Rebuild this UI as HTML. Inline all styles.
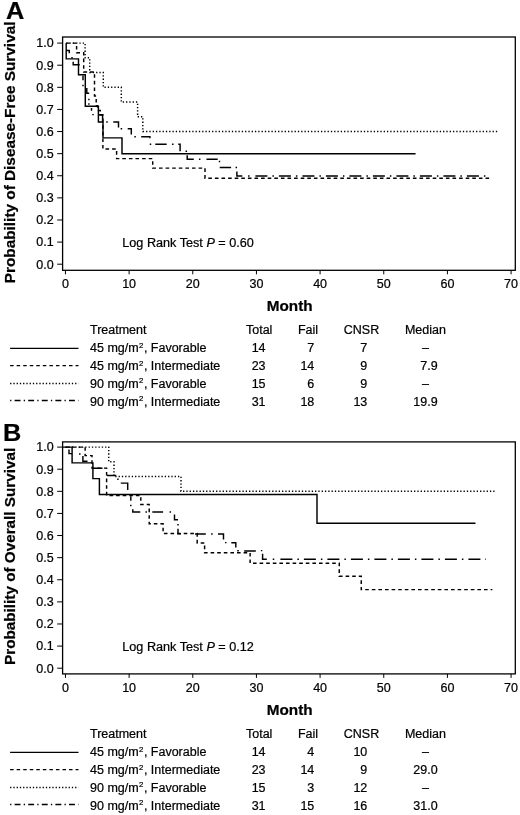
<!DOCTYPE html>
<html><head><meta charset="utf-8"><title>Kaplan-Meier survival curves</title>
<style>
html,body{margin:0;padding:0;background:#fff;}
body{width:520px;height:815px;overflow:hidden;font-family:"Liberation Sans",sans-serif;}
svg{display:block;font-family:"Liberation Sans",sans-serif;}
text{stroke:#000;stroke-width:0.22px;}
</style></head>
<body>
<svg width="520" height="815" viewBox="0 0 520 815" style="will-change:transform">
<rect width="520" height="815" fill="#fff"/>
<rect x="62.6" y="37" width="452.69999999999993" height="233.30" fill="none" stroke="#000" stroke-width="1.3"/>
<line x1="57.2" y1="264.20" x2="62.6" y2="264.20" stroke="#000" stroke-width="1"/>
<text x="53.6" y="268.50" text-anchor="end" font-size="12.5" fill="#000">0.0</text>
<line x1="57.2" y1="242.09" x2="62.6" y2="242.09" stroke="#000" stroke-width="1"/>
<text x="53.6" y="246.39" text-anchor="end" font-size="12.5" fill="#000">0.1</text>
<line x1="57.2" y1="219.98" x2="62.6" y2="219.98" stroke="#000" stroke-width="1"/>
<text x="53.6" y="224.28" text-anchor="end" font-size="12.5" fill="#000">0.2</text>
<line x1="57.2" y1="197.87" x2="62.6" y2="197.87" stroke="#000" stroke-width="1"/>
<text x="53.6" y="202.17" text-anchor="end" font-size="12.5" fill="#000">0.3</text>
<line x1="57.2" y1="175.76" x2="62.6" y2="175.76" stroke="#000" stroke-width="1"/>
<text x="53.6" y="180.06" text-anchor="end" font-size="12.5" fill="#000">0.4</text>
<line x1="57.2" y1="153.65" x2="62.6" y2="153.65" stroke="#000" stroke-width="1"/>
<text x="53.6" y="157.95" text-anchor="end" font-size="12.5" fill="#000">0.5</text>
<line x1="57.2" y1="131.54" x2="62.6" y2="131.54" stroke="#000" stroke-width="1"/>
<text x="53.6" y="135.84" text-anchor="end" font-size="12.5" fill="#000">0.6</text>
<line x1="57.2" y1="109.43" x2="62.6" y2="109.43" stroke="#000" stroke-width="1"/>
<text x="53.6" y="113.73" text-anchor="end" font-size="12.5" fill="#000">0.7</text>
<line x1="57.2" y1="87.32" x2="62.6" y2="87.32" stroke="#000" stroke-width="1"/>
<text x="53.6" y="91.62" text-anchor="end" font-size="12.5" fill="#000">0.8</text>
<line x1="57.2" y1="65.21" x2="62.6" y2="65.21" stroke="#000" stroke-width="1"/>
<text x="53.6" y="69.51" text-anchor="end" font-size="12.5" fill="#000">0.9</text>
<line x1="57.2" y1="43.10" x2="62.6" y2="43.10" stroke="#000" stroke-width="1"/>
<text x="53.6" y="47.40" text-anchor="end" font-size="12.5" fill="#000">1.0</text>
<line x1="65.45" y1="270.30" x2="65.45" y2="274.30" stroke="#000" stroke-width="1"/>
<text x="65.45" y="288.40" text-anchor="middle" font-size="12.5" fill="#000">0</text>
<line x1="129.11" y1="270.30" x2="129.11" y2="274.30" stroke="#000" stroke-width="1"/>
<text x="129.11" y="288.40" text-anchor="middle" font-size="12.5" fill="#000">10</text>
<line x1="192.77" y1="270.30" x2="192.77" y2="274.30" stroke="#000" stroke-width="1"/>
<text x="192.77" y="288.40" text-anchor="middle" font-size="12.5" fill="#000">20</text>
<line x1="256.43" y1="270.30" x2="256.43" y2="274.30" stroke="#000" stroke-width="1"/>
<text x="256.43" y="288.40" text-anchor="middle" font-size="12.5" fill="#000">30</text>
<line x1="320.09" y1="270.30" x2="320.09" y2="274.30" stroke="#000" stroke-width="1"/>
<text x="320.09" y="288.40" text-anchor="middle" font-size="12.5" fill="#000">40</text>
<line x1="383.75" y1="270.30" x2="383.75" y2="274.30" stroke="#000" stroke-width="1"/>
<text x="383.75" y="288.40" text-anchor="middle" font-size="12.5" fill="#000">50</text>
<line x1="447.41" y1="270.30" x2="447.41" y2="274.30" stroke="#000" stroke-width="1"/>
<text x="447.41" y="288.40" text-anchor="middle" font-size="12.5" fill="#000">60</text>
<line x1="511.07" y1="270.30" x2="511.07" y2="274.30" stroke="#000" stroke-width="1"/>
<text x="511.07" y="288.40" text-anchor="middle" font-size="12.5" fill="#000">70</text>
<text x="266.80" y="311.20" textLength="45.8" lengthAdjust="spacingAndGlyphs" font-size="14.6" font-weight="bold" fill="#000">Month</text>
<text transform="translate(15,152.40) rotate(-90)" x="-130.85" textLength="261.7" lengthAdjust="spacingAndGlyphs" font-size="14.5" font-weight="bold" fill="#000">Probability of Disease-Free Survival</text>
<text transform="translate(5.9,19.00) scale(1.055,1)" font-size="24" font-weight="bold" fill="#000">A</text>
<text x="122.3" y="247.20" font-size="12.65" fill="#000">Log Rank Test <tspan font-style="italic">P</tspan> = 0.60</text>
<path d="M66.20,43.10 L85.10,43.10 L85.10,57.84 L89.70,57.84 L89.70,72.58 L103.30,72.58 L103.30,87.32 L121.30,87.32 L121.30,102.06 L137.60,102.06 L137.60,116.80 L142.80,116.80 L142.80,131.54 L498.34,131.54" fill="none" stroke="#000" stroke-width="1.45" stroke-dasharray="1.3 2" stroke-dashoffset="0" stroke-linejoin="miter"/>
<path d="M255.40,175.90 L485.90,175.90" fill="none" stroke="#000" stroke-width="1.45" stroke-dasharray="12 5 1.5 5" stroke-dashoffset="0" stroke-linejoin="miter"/>
<path d="M66.20,50.40 L69.30,50.40 L69.30,53.30 M71.25,57.80 L72.75,57.80 M73.20,61.80 L73.20,64.80 L79.70,64.80 M83.00,75.60 L83.00,80.20 M83.00,84.65 L83.00,86.15 M86.80,88.00 L86.80,93.20 L89.20,93.20 M88.90,98.75 L88.90,100.25 M88.90,103.25 L88.90,104.75 M91.50,108.00 L91.50,110.70 M92.25,114.60 L93.75,114.60 M98.70,114.80 L102.60,114.80 L102.60,121.80 M106.25,121.90 L107.75,121.90 M113.30,121.90 L118.50,121.90 L118.50,127.50 M120.65,128.80 L122.15,128.80 M127.70,128.70 L131.30,128.70 L131.30,134.50 M134.35,136.80 L135.85,136.80 M141.20,136.80 L149.90,136.80 L149.90,138.20 M149.75,144.20 L151.25,144.20 M155.30,144.20 L166.70,144.20 M172.05,144.20 L173.55,144.20 M178.20,144.20 L180.10,144.20 L180.10,151.20 M185.55,151.30 L187.05,151.30 M187.20,155.30 L187.20,159.30 L193.80,159.30 M198.95,159.30 L200.45,159.30 M206.50,159.30 L217.70,159.30 M219.50,160.75 L219.50,162.25 M219.70,167.40 L231.10,167.40 M235.55,167.40 L237.05,167.40 M236.90,171.50 L236.90,175.90 L242.30,175.90 M248.05,175.90 L249.55,175.90" fill="none" stroke="#000" stroke-width="1.45"/>
<path d="M66.20,43.10 L76.60,43.10 L76.60,52.71 L83.70,52.71 L83.70,71.94 L94.50,71.94 L94.50,96.00 L96.20,96.00 L96.20,105.70 L97.60,105.70 L97.60,110.50 L100.30,110.50 L100.30,115.00 L102.90,115.00 L102.90,149.00 L116.60,149.00 L116.60,158.60 L152.70,158.60 L152.70,168.10 L205.00,168.10 L205.00,178.20 L491.97,178.20" fill="none" stroke="#000" stroke-width="1.45" stroke-dasharray="3.6 3" stroke-dashoffset="0" stroke-linejoin="miter"/>
<path d="M66.20,43.10 L66.20,43.10 L66.20,58.89 L78.50,58.89 L78.50,74.69 L85.30,74.69 L85.30,106.27 L98.40,106.27 L98.40,122.06 L103.00,122.06 L103.00,137.86 L122.00,137.86 L122.00,153.65 L415.58,153.65" fill="none" stroke="#000" stroke-width="1.45" stroke-linejoin="miter"/>
<line x1="10.1" y1="348.40" x2="78.5" y2="348.40" stroke="#000" stroke-width="1.3"/>
<line x1="10.1" y1="365.70" x2="78.5" y2="365.70" stroke="#000" stroke-width="1.3" stroke-dasharray="3.5 3.05"/>
<line x1="10.1" y1="383.50" x2="78.5" y2="383.50" stroke="#000" stroke-width="1.3" stroke-dasharray="1.3 1.95"/>
<line x1="10.1" y1="400.50" x2="78.5" y2="400.50" stroke="#000" stroke-width="1.3" stroke-dasharray="1.3 3.2 5.9 3.2"/>
<text x="90.0" y="333.60" font-size="12.5" fill="#000">Treatment</text>
<text x="259.2" y="333.60" font-size="12.5" text-anchor="middle" fill="#000">Total</text>
<text x="308" y="333.60" font-size="12.5" text-anchor="middle" fill="#000">Fail</text>
<text x="361.5" y="333.60" font-size="12.5" text-anchor="middle" fill="#000">CNSR</text>
<text x="425.4" y="333.60" font-size="12.5" text-anchor="middle" fill="#000">Median</text>
<text x="90.0" y="351.70" font-size="12.5" fill="#000">45 mg/m<tspan font-size="7.8" dy="-4.1" dx="0.3">2</tspan><tspan dy="4.1" dx="0.6">, Favorable</tspan></text>
<text x="258.6" y="351.70" font-size="12.5" text-anchor="middle" fill="#000">14</text>
<text x="314.3" y="351.70" font-size="12.5" text-anchor="end" fill="#000">7</text>
<text x="367.3" y="351.70" font-size="12.5" text-anchor="end" fill="#000">7</text>
<text x="425.5" y="351.70" font-size="12.5" text-anchor="middle" fill="#000">–</text>
<text x="90.0" y="369.70" font-size="12.5" fill="#000">45 mg/m<tspan font-size="7.8" dy="-4.1" dx="0.3">2</tspan><tspan dy="4.1" dx="0.6">, Intermediate</tspan></text>
<text x="258.6" y="369.70" font-size="12.5" text-anchor="middle" fill="#000">23</text>
<text x="314.3" y="369.70" font-size="12.5" text-anchor="end" fill="#000">14</text>
<text x="367.3" y="369.70" font-size="12.5" text-anchor="end" fill="#000">9</text>
<text x="437.6" y="369.70" font-size="12.5" text-anchor="end" fill="#000">7.9</text>
<text x="90.0" y="387.50" font-size="12.5" fill="#000">90 mg/m<tspan font-size="7.8" dy="-4.1" dx="0.3">2</tspan><tspan dy="4.1" dx="0.6">, Favorable</tspan></text>
<text x="258.6" y="387.50" font-size="12.5" text-anchor="middle" fill="#000">15</text>
<text x="314.3" y="387.50" font-size="12.5" text-anchor="end" fill="#000">6</text>
<text x="367.3" y="387.50" font-size="12.5" text-anchor="end" fill="#000">9</text>
<text x="425.5" y="387.50" font-size="12.5" text-anchor="middle" fill="#000">–</text>
<text x="90.0" y="405.50" font-size="12.5" fill="#000">90 mg/m<tspan font-size="7.8" dy="-4.1" dx="0.3">2</tspan><tspan dy="4.1" dx="0.6">, Intermediate</tspan></text>
<text x="258.6" y="405.50" font-size="12.5" text-anchor="middle" fill="#000">31</text>
<text x="314.3" y="405.50" font-size="12.5" text-anchor="end" fill="#000">18</text>
<text x="367.3" y="405.50" font-size="12.5" text-anchor="end" fill="#000">13</text>
<text x="437.6" y="405.50" font-size="12.5" text-anchor="end" fill="#000">19.9</text>
<rect x="62.6" y="441.9" width="452.69999999999993" height="232.00" fill="none" stroke="#000" stroke-width="1.3"/>
<line x1="57.2" y1="668.20" x2="62.6" y2="668.20" stroke="#000" stroke-width="1"/>
<text x="53.6" y="672.50" text-anchor="end" font-size="12.5" fill="#000">0.0</text>
<line x1="57.2" y1="646.09" x2="62.6" y2="646.09" stroke="#000" stroke-width="1"/>
<text x="53.6" y="650.39" text-anchor="end" font-size="12.5" fill="#000">0.1</text>
<line x1="57.2" y1="623.98" x2="62.6" y2="623.98" stroke="#000" stroke-width="1"/>
<text x="53.6" y="628.28" text-anchor="end" font-size="12.5" fill="#000">0.2</text>
<line x1="57.2" y1="601.87" x2="62.6" y2="601.87" stroke="#000" stroke-width="1"/>
<text x="53.6" y="606.17" text-anchor="end" font-size="12.5" fill="#000">0.3</text>
<line x1="57.2" y1="579.76" x2="62.6" y2="579.76" stroke="#000" stroke-width="1"/>
<text x="53.6" y="584.06" text-anchor="end" font-size="12.5" fill="#000">0.4</text>
<line x1="57.2" y1="557.65" x2="62.6" y2="557.65" stroke="#000" stroke-width="1"/>
<text x="53.6" y="561.95" text-anchor="end" font-size="12.5" fill="#000">0.5</text>
<line x1="57.2" y1="535.54" x2="62.6" y2="535.54" stroke="#000" stroke-width="1"/>
<text x="53.6" y="539.84" text-anchor="end" font-size="12.5" fill="#000">0.6</text>
<line x1="57.2" y1="513.43" x2="62.6" y2="513.43" stroke="#000" stroke-width="1"/>
<text x="53.6" y="517.73" text-anchor="end" font-size="12.5" fill="#000">0.7</text>
<line x1="57.2" y1="491.32" x2="62.6" y2="491.32" stroke="#000" stroke-width="1"/>
<text x="53.6" y="495.62" text-anchor="end" font-size="12.5" fill="#000">0.8</text>
<line x1="57.2" y1="469.21" x2="62.6" y2="469.21" stroke="#000" stroke-width="1"/>
<text x="53.6" y="473.51" text-anchor="end" font-size="12.5" fill="#000">0.9</text>
<line x1="57.2" y1="447.10" x2="62.6" y2="447.10" stroke="#000" stroke-width="1"/>
<text x="53.6" y="451.40" text-anchor="end" font-size="12.5" fill="#000">1.0</text>
<line x1="65.45" y1="673.90" x2="65.45" y2="677.90" stroke="#000" stroke-width="1"/>
<text x="65.45" y="692.40" text-anchor="middle" font-size="12.5" fill="#000">0</text>
<line x1="129.11" y1="673.90" x2="129.11" y2="677.90" stroke="#000" stroke-width="1"/>
<text x="129.11" y="692.40" text-anchor="middle" font-size="12.5" fill="#000">10</text>
<line x1="192.77" y1="673.90" x2="192.77" y2="677.90" stroke="#000" stroke-width="1"/>
<text x="192.77" y="692.40" text-anchor="middle" font-size="12.5" fill="#000">20</text>
<line x1="256.43" y1="673.90" x2="256.43" y2="677.90" stroke="#000" stroke-width="1"/>
<text x="256.43" y="692.40" text-anchor="middle" font-size="12.5" fill="#000">30</text>
<line x1="320.09" y1="673.90" x2="320.09" y2="677.90" stroke="#000" stroke-width="1"/>
<text x="320.09" y="692.40" text-anchor="middle" font-size="12.5" fill="#000">40</text>
<line x1="383.75" y1="673.90" x2="383.75" y2="677.90" stroke="#000" stroke-width="1"/>
<text x="383.75" y="692.40" text-anchor="middle" font-size="12.5" fill="#000">50</text>
<line x1="447.41" y1="673.90" x2="447.41" y2="677.90" stroke="#000" stroke-width="1"/>
<text x="447.41" y="692.40" text-anchor="middle" font-size="12.5" fill="#000">60</text>
<line x1="511.07" y1="673.90" x2="511.07" y2="677.90" stroke="#000" stroke-width="1"/>
<text x="511.07" y="692.40" text-anchor="middle" font-size="12.5" fill="#000">70</text>
<text x="266.80" y="715.20" textLength="45.8" lengthAdjust="spacingAndGlyphs" font-size="14.6" font-weight="bold" fill="#000">Month</text>
<text transform="translate(15,556.40) rotate(-90)" x="-108.55" textLength="217.1" lengthAdjust="spacingAndGlyphs" font-size="14.5" font-weight="bold" fill="#000">Probability of Overall Survival</text>
<text transform="translate(3.1,440.60) scale(1.055,1)" font-size="24" font-weight="bold" fill="#000">B</text>
<text x="122.3" y="651.20" font-size="12.65" fill="#000">Log Rank Test <tspan font-style="italic">P</tspan> = 0.12</text>
<path d="M65.50,447.10 L108.75,447.10 L108.75,461.82 L114.00,461.82 L114.00,476.54 L181.00,476.54 L181.00,491.26 L495.80,491.26" fill="none" stroke="#000" stroke-width="1.45" stroke-dasharray="1.3 2" stroke-dashoffset="0" stroke-linejoin="miter"/>
<path d="M280.40,559.20 L486.00,559.20" fill="none" stroke="#000" stroke-width="1.45" stroke-dasharray="12 5 1.5 5" stroke-dashoffset="0" stroke-linejoin="miter"/>
<path d="M69.00,449.50 L69.00,453.60 L72.00,453.60 M79.05,454.00 L80.55,454.00 M82.90,456.00 L82.90,461.20 L87.50,461.20 M92.90,468.20 L102.50,468.20 M106.90,475.40 L116.20,475.40 M117.90,478.45 L117.90,479.95 M120.80,483.10 L127.70,483.10 L127.70,490.00 M130.80,496.20 L130.80,500.80 M130.80,504.65 L130.80,506.15 M132.80,509.20 L132.80,512.00 L140.30,512.00 M145.45,512.00 L146.95,512.00 M152.30,512.00 L163.10,512.00 M169.55,512.00 L171.05,512.00 M174.50,514.50 L174.50,519.80 L178.00,519.80 M178.00,523.95 L178.00,525.45 M178.00,528.80 L178.00,533.70 L181.00,533.70 M195.00,534.00 L205.80,534.00 M211.15,534.00 L212.65,534.00 M218.00,534.00 L223.50,534.00 L223.50,539.60 M224.95,542.60 L226.45,542.60 M231.30,542.70 L235.80,542.70 L235.80,547.60 M237.25,550.80 L238.75,550.80 M244.20,550.90 L255.80,550.90 M260.85,550.60 L262.35,550.60 M262.60,553.80 L262.60,559.20 L266.80,559.20 M272.75,559.20 L274.25,559.20" fill="none" stroke="#000" stroke-width="1.45"/>
<path d="M65.50,447.10 L85.15,447.10 L85.15,455.60 L92.00,455.60 L92.00,468.10 L106.60,468.10 L106.60,495.50 L140.80,495.50 L140.80,504.50 L149.20,504.50 L149.20,523.80 L163.10,523.80 L163.10,533.50 L197.20,533.50 L197.20,542.90 L204.60,542.90 L204.60,552.80 L250.10,552.80 L250.10,563.20 L339.25,563.20 L339.25,576.20 L361.25,576.20 L361.25,589.60 L492.40,589.60" fill="none" stroke="#000" stroke-width="1.45" stroke-dasharray="3.6 3" stroke-dashoffset="0" stroke-linejoin="miter"/>
<path d="M62.60,447.10 L72.10,447.10 L72.10,462.87 L92.90,462.87 L92.90,478.64 L99.40,478.64 L99.40,494.41 L317.00,494.41 L317.00,523.30 L475.50,523.30" fill="none" stroke="#000" stroke-width="1.45" stroke-linejoin="miter"/>
<line x1="10.1" y1="752.40" x2="78.5" y2="752.40" stroke="#000" stroke-width="1.3"/>
<line x1="10.1" y1="769.70" x2="78.5" y2="769.70" stroke="#000" stroke-width="1.3" stroke-dasharray="3.5 3.05"/>
<line x1="10.1" y1="787.50" x2="78.5" y2="787.50" stroke="#000" stroke-width="1.3" stroke-dasharray="1.3 1.95"/>
<line x1="10.1" y1="804.50" x2="78.5" y2="804.50" stroke="#000" stroke-width="1.3" stroke-dasharray="1.3 3.2 5.9 3.2"/>
<text x="90.0" y="737.60" font-size="12.5" fill="#000">Treatment</text>
<text x="259.2" y="737.60" font-size="12.5" text-anchor="middle" fill="#000">Total</text>
<text x="308" y="737.60" font-size="12.5" text-anchor="middle" fill="#000">Fail</text>
<text x="361.5" y="737.60" font-size="12.5" text-anchor="middle" fill="#000">CNSR</text>
<text x="425.4" y="737.60" font-size="12.5" text-anchor="middle" fill="#000">Median</text>
<text x="90.0" y="755.70" font-size="12.5" fill="#000">45 mg/m<tspan font-size="7.8" dy="-4.1" dx="0.3">2</tspan><tspan dy="4.1" dx="0.6">, Favorable</tspan></text>
<text x="258.6" y="755.70" font-size="12.5" text-anchor="middle" fill="#000">14</text>
<text x="314.3" y="755.70" font-size="12.5" text-anchor="end" fill="#000">4</text>
<text x="367.3" y="755.70" font-size="12.5" text-anchor="end" fill="#000">10</text>
<text x="425.5" y="755.70" font-size="12.5" text-anchor="middle" fill="#000">–</text>
<text x="90.0" y="773.70" font-size="12.5" fill="#000">45 mg/m<tspan font-size="7.8" dy="-4.1" dx="0.3">2</tspan><tspan dy="4.1" dx="0.6">, Intermediate</tspan></text>
<text x="258.6" y="773.70" font-size="12.5" text-anchor="middle" fill="#000">23</text>
<text x="314.3" y="773.70" font-size="12.5" text-anchor="end" fill="#000">14</text>
<text x="367.3" y="773.70" font-size="12.5" text-anchor="end" fill="#000">9</text>
<text x="437.6" y="773.70" font-size="12.5" text-anchor="end" fill="#000">29.0</text>
<text x="90.0" y="791.50" font-size="12.5" fill="#000">90 mg/m<tspan font-size="7.8" dy="-4.1" dx="0.3">2</tspan><tspan dy="4.1" dx="0.6">, Favorable</tspan></text>
<text x="258.6" y="791.50" font-size="12.5" text-anchor="middle" fill="#000">15</text>
<text x="314.3" y="791.50" font-size="12.5" text-anchor="end" fill="#000">3</text>
<text x="367.3" y="791.50" font-size="12.5" text-anchor="end" fill="#000">12</text>
<text x="425.5" y="791.50" font-size="12.5" text-anchor="middle" fill="#000">–</text>
<text x="90.0" y="809.50" font-size="12.5" fill="#000">90 mg/m<tspan font-size="7.8" dy="-4.1" dx="0.3">2</tspan><tspan dy="4.1" dx="0.6">, Intermediate</tspan></text>
<text x="258.6" y="809.50" font-size="12.5" text-anchor="middle" fill="#000">31</text>
<text x="314.3" y="809.50" font-size="12.5" text-anchor="end" fill="#000">15</text>
<text x="367.3" y="809.50" font-size="12.5" text-anchor="end" fill="#000">16</text>
<text x="437.6" y="809.50" font-size="12.5" text-anchor="end" fill="#000">31.0</text>
</svg>
</body></html>
